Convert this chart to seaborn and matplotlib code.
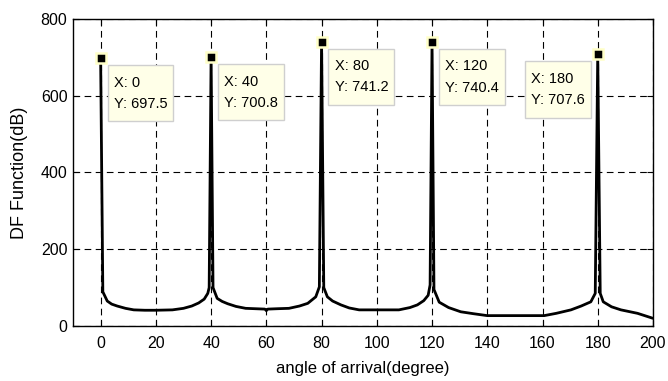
import matplotlib
matplotlib.use("Agg")
import matplotlib.pyplot as plt
from matplotlib.path import Path
import seaborn as sns
import pandas as pd

# ---- data ----
angle = [0, 0.8, 2.4, 4, 6, 9, 12, 16, 20, 26, 30, 33, 35.5, 37.5, 38.8, 39.3,
         40, 40.7, 42.2, 44, 46, 49, 52.5, 56, 59.5, 60, 60.5, 64, 68.2, 72, 75, 77.9, 79.2,
         80, 80.8, 82.1, 84, 87, 90, 93.6, 100, 108, 112, 114.7, 117, 118.6, 119.3,
         120, 120.7, 122.6, 126, 130.4, 135, 140, 150, 160.6, 165, 170.3, 174, 177.5, 179.1,
         180, 180.9, 182, 185, 188.4, 194.4, 200]
df_db = [697.5, 89, 65, 57, 52, 46, 42, 41, 41, 42, 46, 52, 60, 70, 85, 100,
         700.8, 100, 72, 64, 58, 51, 46, 45, 44, 40, 44, 45, 46, 52, 59, 76, 102,
         741.2, 100, 76, 65, 55, 47, 42, 42, 42, 48, 55, 66, 80, 107,
         740.4, 95, 62, 48, 37, 32, 27, 27, 27, 33, 42, 52, 63, 85,
         707.6, 85, 63, 50, 42, 33, 20]

peak_x = [0, 40, 80, 120, 180]
peak_y = [697.5, 700.8, 741.2, 740.4, 707.6]
peak_labels = ["X: 0\nY: 697.5", "X: 40\nY: 700.8", "X: 80\nY: 741.2",
               "X: 120\nY: 740.4", "X: 180\nY: 707.6"]
label_side = ["right", "right", "right", "right", "left"]

x_ticks = [0, 20, 40, 60, 80, 100, 120, 140, 160, 180, 200]
y_ticks = [0, 200, 400, 600, 800]

sns.set_theme(style="white")
plt.rcParams["font.family"] = ["Liberation Sans", "DejaVu Sans"]


def tip_box(x0, y0, width, height, mutation_size):
    padx = 0.42 * mutation_size
    pady = 0.72 * mutation_size
    xa, xb = x0 - padx, x0 + width + padx
    ya, yb = y0 - pady, y0 + height + pady
    return Path([(xa, ya), (xb, ya), (xb, yb), (xa, yb), (xa, ya)], closed=True)


fig = plt.figure(figsize=(6.68, 3.81), dpi=100)
ax = fig.add_axes([0.1093, 0.1444, 0.8682, 0.8057])

data = pd.DataFrame({"angle": angle, "df": df_db})
sns.lineplot(data=data, x="angle", y="df", ax=ax, color="black", linewidth=2.0,
             estimator=None, sort=False)

ax.plot(peak_x, peak_y, linestyle="none", marker="s", markersize=7.5,
        markerfacecolor="black", markeredgecolor="#ffffc8", markeredgewidth=1.8, zorder=5)

for px, py, lab, side in zip(peak_x, peak_y, peak_labels, label_side):
    if side == "right":
        off, ha = (13, -17.5), "left"
    else:
        off, ha = (-13, -17.5), "right"
    ax.annotate(lab, xy=(px, py), xytext=off, textcoords="offset pixels",
                ha=ha, va="top", multialignment="left", fontsize=10.5,
                linespacing=1.65, color="black",
                bbox=dict(boxstyle=tip_box, facecolor="#ffffe8",
                          edgecolor="#cfcfcf", linewidth=1.0), zorder=6)

ax.set_xlim(-10, 200)
ax.set_ylim(0, 800)
ax.set_xticks(x_ticks)
ax.set_yticks(y_ticks)
ax.tick_params(axis="both", direction="in", length=4, width=0.8, colors="black",
               labelsize=11.5, top=True, right=True, bottom=True, left=True)
ax.tick_params(axis="x", pad=7)
ax.tick_params(axis="y", pad=4)

ax.grid(True, color="black", linestyle=(0, (6, 4)), linewidth=0.8)
for s in ax.spines.values():
    s.set_color("black")
    s.set_linewidth(1.0)
    s.set_visible(True)

ax.set_xlabel("angle of arrival(degree)", fontsize=12, color="black")
ax.set_ylabel("DF Function(dB)", fontsize=13, color="black")
ax.xaxis.set_label_coords(0.5, -0.115)
ax.yaxis.set_label_coords(-0.077, 0.5)

fig.savefig("out.png", dpi=100)
